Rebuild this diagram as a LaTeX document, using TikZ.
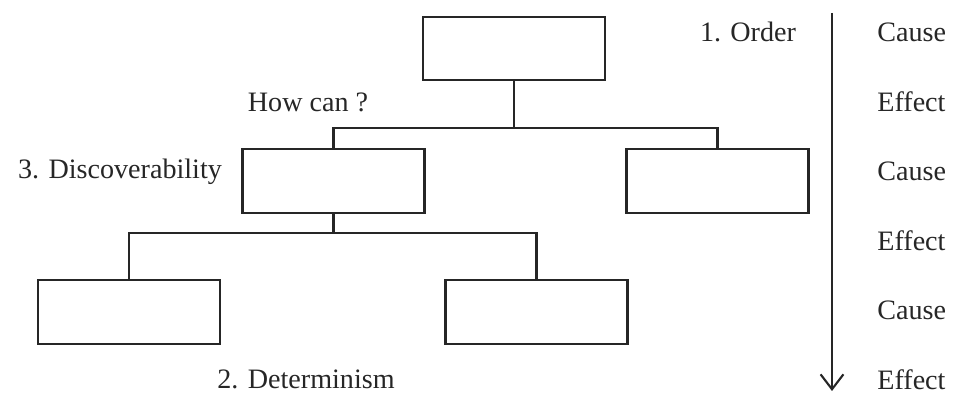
\documentclass[tikz,border=0pt]{standalone}
\usepackage{fontspec}
\setmainfont{Liberation Serif}
\usepackage{tikz}
\usetikzlibrary{arrows.meta, positioning, calc}

\tikzset{
  box/.style={draw=black!85, line width=1.2pt, minimum width=3.64cm, minimum height=1.27cm, inner sep=0pt},
  lbl/.style={font=\fontsize{16}{19}\selectfont, text=black!85, inner sep=0pt},
  link/.style={draw=black!85, line width=1.2pt}
}

\begin{document}
\begin{tikzpicture}[x=0.02cm, y=-0.02cm]
\useasboundingbox (0,0) rectangle (956,394);

% Tree of boxes
\node[box] (top)  at (514,48.5) {};
\node[box] (midL) at (333.5,181) {};
\node[box] (midR) at (717.5,181) {};
\node[box] (botL) at (129,312) {};
\node[box] (botR) at (536.5,312) {};

% Branch points
\coordinate (j1) at (top.south |- 0,128);
\coordinate (j2) at (midL.south |- 0,233);
\draw[link] (top.south) -- (j1) -| (midL.north);
\draw[link] (j1) -| (midR.north);
\draw[link] (midL.south) -- (j2) -| (botL.north);
\draw[link] (j2) -| (botR.north);

% Labels around the tree
\node[lbl] (order) at (748,32) {1. Order};
\node[lbl] (how)   at (308,102) {How can ?};
\node[lbl] (disc)  at (120,172) {3. Discoverability};
\node[lbl] (det)   at (306,379) {2. Determinism};

% Time axis with cause / effect steps
\coordinate (ax1) at (832,13);
\coordinate (ax2) at (832,391);
\draw[link, -{Straight Barb[length=8.5pt, width=13pt]}] (ax1) -- (ax2);
\foreach \w [count=\i] in {Cause,Effect,Cause,Effect,Cause,Effect} {
    \node[lbl, anchor=west] (step\i) at (877,{32+69.5*(\i-1)}) {\w};
}
\end{tikzpicture}
\end{document}
